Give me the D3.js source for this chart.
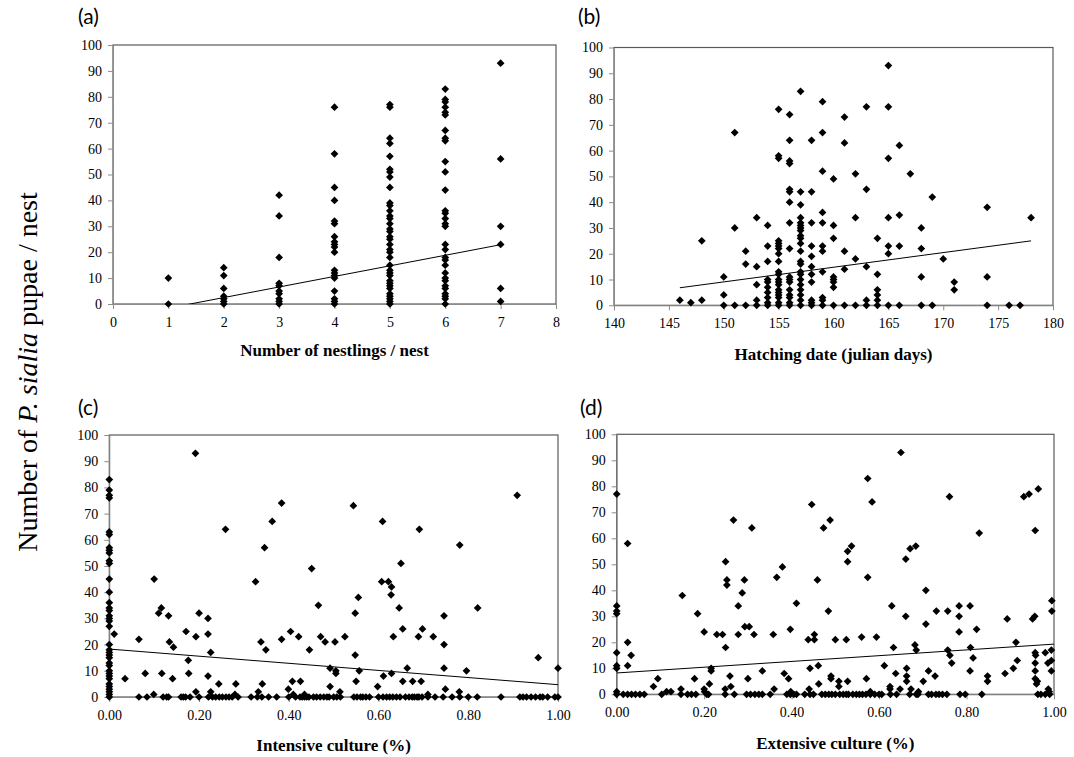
<!DOCTYPE html>
<html>
<head>
<meta charset="utf-8">
<script src="https://cdn.jsdelivr.net/npm/d3@7"></script>
<style>
  body { margin: 0; background: #fff; }
  .tick line { stroke: #8c8c8c; }
  .axis .domain { stroke: #8c8c8c; }
  .axTitle { font-family: "Liberation Serif", "Times New Roman", serif; font-size: 17px; font-weight: bold; }
  .panelLabel { font-family: Lato, "Liberation Sans", sans-serif; font-size: 21px; }
</style>
</head>
<body>
<div id="chart"></div>
<script>
// (a) number of nestlings vs pupae
const nestlings = [1, 2, 3, 4, 5, 6, 7];
const pupaeByNestlings = [
  [10, 0],
  [14, 11, 6, 3, 2, 1, 0],
  [42, 34, 18, 8, 7, 5, 4, 2, 1, 0],
  [76, 58, 45, 40, 32, 31, 26, 24, 23, 22, 20, 13, 12, 11, 10, 5, 2, 1, 0],
  [77, 76, 64, 62, 57, 52, 51, 49, 45, 39, 38, 36, 34, 33, 31, 29, 28, 26, 25, 23, 21, 20, 18, 15, 13, 12, 11, 9, 8, 7, 6, 4, 3, 2, 1, 0],
  [83, 79, 78, 76, 74, 73, 67, 64, 63, 55, 51, 44, 36, 35, 33, 31, 30, 23, 21, 18, 17, 15, 12, 10, 9, 7, 6, 4, 3, 2, 0],
  [93, 56, 30, 23, 6, 1]
];
const trendNestlings = [[1, -1.6], [7, 22.9]];

// (b) hatching date vs pupae
const hatchDays = [146, 147, 148, 150, 151, 152, 153, 154, 155, 156, 157, 158, 159, 160, 161, 162, 163, 164, 165, 166, 167, 168, 169, 170, 171, 174, 176, 177, 178];
const pupaeByDay = [
  [2], [1], [25, 2], [11, 4, 0], [67, 30, 0], [21, 16, 0], [34, 15, 8, 2, 0],
  [31, 23, 17, 10, 9, 7, 5, 3, 1, 0],
  [76, 58, 57, 25, 24, 23, 22, 20, 17, 13, 12, 10, 9, 8, 6, 5, 4, 3, 1, 0],
  [74, 64, 56, 55, 45, 44, 40, 32, 22, 11, 10, 9, 6, 4, 3, 1, 0],
  [83, 44, 39, 34, 32, 31, 30, 29, 27, 26, 24, 21, 17, 16, 13, 12, 10, 8, 6, 4, 2, 0],
  [64, 44, 32, 23, 19, 15, 12, 9, 2, 1, 0],
  [79, 67, 52, 36, 32, 23, 21, 13, 3, 2, 0],
  [49, 31, 26, 11, 10, 9, 7, 0],
  [73, 63, 21, 14, 0], [51, 34, 18, 0], [77, 45, 15, 2, 0], [26, 12, 6, 4, 2, 0],
  [93, 77, 57, 34, 23, 20, 0], [62, 35, 23, 0], [51], [30, 22, 11, 0], [42, 0],
  [18], [9, 6], [38, 11, 0], [0], [0], [34]
];
const trendHatch = [[146, 6.8], [178, 25]];

// (c) intensive culture
const intensiveAtZero = [83, 79, 77, 76, 63, 62, 57, 56, 55, 52, 51, 45, 40, 36, 34, 33, 31, 30, 29, 27, 20, 18, 17, 16, 15, 13, 12, 10, 9, 8, 7, 5, 4, 3, 2, 1, 0];
const intensivePoints = [
  [0.011, 24], [0.035, 7], [0.066, 22], [0.066, 0], [0.08, 9], [0.084, 0], [0.099, 1], [0.10, 45], [0.11, 32], [0.116, 34],
  [0.117, 9], [0.12, 0], [0.128, 0], [0.132, 0], [0.132, 31], [0.134, 21], [0.143, 19], [0.141, 7], [0.16, 0], [0.165, 0],
  [0.17, 0], [0.171, 25], [0.176, 14], [0.177, 9], [0.18, 0], [0.192, 93], [0.193, 23], [0.193, 2], [0.2, 32], [0.2, 0],
  [0.22, 30], [0.22, 24], [0.22, 8], [0.221, 0], [0.226, 17], [0.226, 2], [0.23, 0], [0.237, 0], [0.244, 5], [0.245, 0],
  [0.252, 0], [0.259, 64], [0.26, 0], [0.267, 0], [0.274, 0], [0.28, 1], [0.282, 5], [0.287, 0], [0.316, 0], [0.326, 44],
  [0.332, 2], [0.33, 0], [0.338, 21], [0.341, 5], [0.346, 57], [0.349, 18], [0.34, 0], [0.355, 0], [0.363, 67], [0.373, 0],
  [0.384, 74], [0.384, 22], [0.399, 3], [0.4, 0], [0.404, 25], [0.408, 6], [0.41, 1], [0.415, 0], [0.422, 23], [0.426, 6],
  [0.43, 0], [0.435, 1], [0.44, 0], [0.446, 18], [0.451, 49], [0.466, 35], [0.471, 23], [0.481, 21], [0.492, 11], [0.492, 4],
  [0.503, 21], [0.505, 10], [0.505, 9], [0.514, 2], [0.525, 23], [0.544, 73], [0.548, 32], [0.548, 16], [0.55, 6], [0.555, 38],
  [0.557, 10], [0.598, 4], [0.607, 44], [0.609, 67], [0.611, 8], [0.622, 44], [0.628, 39], [0.629, 42], [0.629, 9], [0.633, 23],
  [0.646, 34], [0.65, 51], [0.654, 26], [0.654, 6], [0.664, 11], [0.676, 6], [0.689, 23], [0.691, 64], [0.695, 6], [0.698, 26],
  [0.71, 1], [0.722, 23], [0.746, 31], [0.746, 20], [0.746, 11], [0.749, 3], [0.78, 2], [0.781, 58], [0.796, 10], [0.821, 34],
  [0.909, 77], [0.956, 15], [1.0, 11]
];
const intensiveZeros = [0.425, 0.435, 0.445, 0.455, 0.462, 0.47, 0.478, 0.485, 0.49, 0.5, 0.507, 0.515, 0.545, 0.552, 0.56, 0.565,
  0.572, 0.58, 0.6, 0.61, 0.618, 0.625, 0.632, 0.64, 0.648, 0.66, 0.668, 0.675, 0.68, 0.686, 0.69, 0.697, 0.71, 0.726, 0.744,
  0.764, 0.781, 0.8, 0.82, 0.873, 0.915, 0.922, 0.93, 0.94, 0.95, 0.96, 0.966, 0.977, 0.993, 1.0];
const trendIntensive = [[0, 18.3], [1, 4.7]];

// (d) extensive culture
const extensiveAtZero = [77, 34, 32, 31, 16, 11, 10, 1, 0];
const extensivePoints = [
  [0.025, 58], [0.025, 20], [0.033, 15], [0.025, 11], [0.084, 3], [0.094, 6], [0.114, 1], [0.124, 1], [0.147, 2], [0.150, 38],
  [0.178, 6], [0.185, 31], [0.2, 24], [0.2, 2], [0.201, 1], [0.212, 4], [0.216, 10], [0.216, 9], [0.229, 23], [0.242, 23],
  [0.249, 51], [0.252, 44], [0.252, 42], [0.249, 18], [0.248, 2], [0.261, 3], [0.259, 7], [0.267, 67], [0.278, 34], [0.278, 23],
  [0.287, 39], [0.292, 44], [0.293, 26], [0.303, 26], [0.3, 6], [0.309, 64], [0.314, 23], [0.333, 9], [0.358, 23], [0.36, 2],
  [0.366, 45], [0.379, 49], [0.383, 8], [0.393, 6], [0.397, 25], [0.398, 1], [0.411, 35], [0.438, 21], [0.442, 10], [0.44, 2],
  [0.446, 73], [0.452, 23], [0.452, 21], [0.459, 44], [0.461, 11], [0.462, 4], [0.473, 64], [0.484, 32], [0.488, 67], [0.49, 6],
  [0.49, 7], [0.5, 21], [0.508, 5], [0.508, 3], [0.525, 21], [0.528, 5], [0.528, 51], [0.528, 55], [0.537, 57], [0.56, 22],
  [0.571, 6], [0.574, 83], [0.574, 45], [0.584, 74], [0.594, 22], [0.612, 11], [0.625, 3], [0.625, 2], [0.629, 34], [0.633, 18],
  [0.638, 8], [0.65, 93], [0.661, 52], [0.671, 56], [0.684, 57], [0.661, 30], [0.663, 10], [0.663, 7], [0.663, 5], [0.682, 19],
  [0.685, 17], [0.701, 5], [0.707, 40], [0.707, 27], [0.713, 9], [0.728, 7], [0.731, 32], [0.757, 32], [0.757, 17], [0.761, 76],
  [0.762, 15], [0.766, 12], [0.783, 34], [0.783, 30], [0.783, 24], [0.808, 34], [0.809, 18], [0.815, 14], [0.808, 9], [0.823, 25],
  [0.829, 62], [0.848, 7], [0.848, 5], [0.888, 8], [0.893, 29], [0.907, 10], [0.913, 20], [0.916, 13], [0.931, 76], [0.943, 77],
  [0.964, 79], [0.957, 63], [0.951, 29], [0.956, 30], [0.957, 16], [0.958, 15], [0.957, 12], [0.957, 9], [0.957, 6], [0.96, 4],
  [0.962, 5], [0.98, 16], [0.986, 12], [0.994, 13], [0.994, 17], [0.994, 9], [0.995, 36], [0.995, 32], [0.987, 2], [0.989, 1],
  [0.673, 2], [0.648, 2], [0.69, 1], [0.58, 1]
];
const extensiveZeros = [0.015, 0.025, 0.034, 0.043, 0.053, 0.063, 0.103, 0.147, 0.162, 0.171, 0.181, 0.206, 0.21, 0.248, 0.269,
  0.297, 0.306, 0.316, 0.325, 0.333, 0.351, 0.389, 0.397, 0.405, 0.411, 0.43, 0.442, 0.45, 0.469, 0.477, 0.485, 0.492, 0.5,
  0.51, 0.518, 0.525, 0.53, 0.54, 0.548, 0.555, 0.562, 0.57, 0.58, 0.59, 0.6, 0.606, 0.626, 0.64, 0.67, 0.685, 0.689, 0.713,
  0.72, 0.73, 0.737, 0.745, 0.755, 0.785, 0.797, 0.835, 0.963, 0.97, 0.98, 0.99];
const trendExtensive = [[0, 8.2], [1, 19.3]];

const yTicks = d3.range(0, 101, 10);

var width = 1074, height = 757;
const svg = d3.select("#chart")
  .append("svg")
  .attr("width", width)
  .attr("height", height);

const serif = '"Liberation Serif", "Times New Roman", serif';

const panels = [
  {
    label: "(a)", labelX: 78, labelY: 24,
    box: { left: 113, top: 45, right: 556, bottom: 304 },
    xDomain: [0, 8], xTicks: d3.range(0, 9, 1), xFormat: d3.format("d"),
    title: "Number of nestlings / nest", titleY: 356,
    points: nestlings.flatMap((n, i) => pupaeByNestlings[i].map(v => [n, v])),
    trend: trendNestlings
  },
  {
    label: "(b)", labelX: 578, labelY: 24,
    box: { left: 614, top: 47.5, right: 1053, bottom: 305.3 },
    xDomain: [140, 180], xTicks: d3.range(140, 181, 5), xFormat: d3.format("d"),
    title: "Hatching date (julian days)", titleY: 360,
    points: hatchDays.flatMap((d, i) => pupaeByDay[i].map(v => [d, v])),
    trend: trendHatch
  },
  {
    label: "(c)", labelX: 78, labelY: 415,
    box: { left: 109.3, top: 435, right: 558, bottom: 697 },
    xDomain: [0, 1], xTicks: d3.range(0, 1.01, 0.2), xFormat: d3.format(".2f"),
    title: "Intensive culture (%)", titleY: 751,
    points: intensiveAtZero.map(v => [0, v]).concat(intensivePoints, intensiveZeros.map(x => [x, 0])),
    trend: trendIntensive
  },
  {
    label: "(d)", labelX: 580, labelY: 415,
    box: { left: 616.7, top: 434.3, right: 1054, bottom: 694.3 },
    xDomain: [0, 1], xTicks: d3.range(0, 1.01, 0.2), xFormat: d3.format(".2f"),
    title: "Extensive culture (%)", titleY: 749,
    points: extensiveAtZero.map(v => [0, v]).concat(extensivePoints, extensiveZeros.map(x => [x, 0])),
    trend: trendExtensive
  }
];

const diamond = d3.symbol().type(d3.symbolSquare).size(30);

panels.forEach((p, k) => {
  const b = p.box;
  const x = d3.scaleLinear().domain(p.xDomain).range([b.left, b.right]);
  const y = d3.scaleLinear().domain([0, 100]).range([b.bottom, b.top]);

  // plot frame
  svg.append("rect")
    .attr("x", b.left).attr("y", b.top)
    .attr("width", b.right - b.left).attr("height", b.bottom - b.top)
    .attr("fill", "none")
    .attr("stroke", "#5a5a5a")
    .attr("stroke-width", 1.2);

  const xAxisG = svg.append("g")
    .attr("class", "axis")
    .attr("transform", "translate(0," + b.bottom + ")")
    .call(d3.axisBottom(x).tickValues(p.xTicks).tickFormat(p.xFormat).tickSize(5).tickSizeOuter(0).tickPadding(8));

  const yAxisG = svg.append("g")
    .attr("class", "axis")
    .attr("transform", "translate(" + b.left + ",0)")
    .call(d3.axisLeft(y).tickValues(yTicks).tickSize(5).tickSizeOuter(0).tickPadding(6));

  [xAxisG, yAxisG].forEach(g => {
    g.attr("font-family", null).attr("font-size", null);
    g.selectAll("text")
      .style("font-family", serif)
      .style("font-size", "14px")
      .style("fill", "#000");
  });

  // trend line, clipped to the plot area
  svg.append("clipPath").attr("id", "clip" + k)
    .append("rect")
    .attr("x", b.left).attr("y", b.top)
    .attr("width", b.right - b.left).attr("height", b.bottom - b.top);

  svg.append("path")
    .datum(p.trend)
    .attr("clip-path", "url(#clip" + k + ")")
    .attr("fill", "none")
    .attr("stroke", "#000")
    .attr("stroke-width", 1)
    .attr("d", d3.line().x(d => x(d[0])).y(d => y(d[1])));

  svg.append("g")
    .selectAll("path")
    .data(p.points)
    .enter()
    .append("path")
    .attr("d", diamond)
    .attr("transform", d => "translate(" + x(d[0]) + "," + y(d[1]) + ") rotate(45)")
    .attr("fill", "#000");

  svg.append("text")
    .attr("class", "axTitle")
    .attr("x", (b.left + b.right) / 2)
    .attr("y", p.titleY)
    .attr("text-anchor", "middle")
    .text(p.title);

  svg.append("text")
    .attr("class", "panelLabel")
    .attr("x", p.labelX)
    .attr("y", p.labelY)
    .text(p.label);
});

// shared y title
const yTitle = svg.append("text")
  .attr("transform", "translate(37,372) rotate(-90)")
  .attr("text-anchor", "middle")
  .attr("font-family", serif)
  .attr("font-size", "28px");
yTitle.append("tspan").text("Number of ");
yTitle.append("tspan").attr("font-style", "italic").text("P. sialia");
yTitle.append("tspan").text(" pupae / nest");
</script>
</body>
</html>
